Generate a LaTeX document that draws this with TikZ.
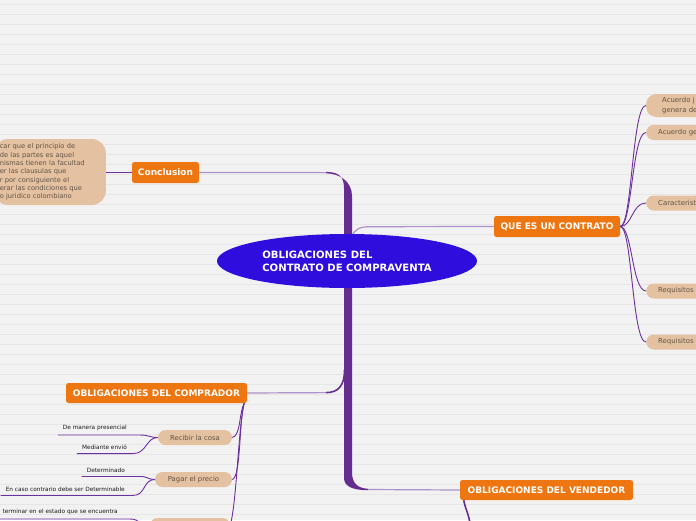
\documentclass[tikz,border=0pt]{standalone}
\usepackage{fontspec}
\setmainfont{DejaVu Sans}
\usetikzlibrary{shapes.geometric,calc}
\definecolor{bg}{RGB}{242,242,242}
\definecolor{bgline}{RGB}{230,230,230}
\definecolor{orng}{RGB}{238,118,17}
\definecolor{peach}{RGB}{228,193,160}
\definecolor{rootc}{RGB}{46,13,221}
\definecolor{trunkc}{RGB}{102,45,145}
\definecolor{lightln}{RGB}{172,145,204}
\definecolor{darkln}{RGB}{108,48,160}
\definecolor{peachtxt}{RGB}{100,84,70}
\begin{document}
\begin{tikzpicture}[x=1pt,y=-1pt,
 mainbox/.style={fill=orng, text=white, font=\bfseries\fontsize{9}{10}\selectfont, rounded corners=2.5pt, inner sep=0pt, minimum height=21},
 pill/.style={fill=peach, text=peachtxt, font=\fontsize{6.9}{10}\selectfont, rounded corners=7.5pt, inner sep=0pt, minimum height=15},
 gctext/.style={text=black!90, font=\fontsize{5.8}{7}\selectfont, inner sep=0pt, anchor=east},
 lightlink/.style={draw=lightln, line width=1.2pt},
 darklink/.style={draw=darkln, line width=0.9pt},
 trunkfill/.style={fill=trunkc},
]
\clip (0,0) rectangle (696,520);
\fill[bg] (0,0) rectangle (696,520);
\foreach \k in {0,...,51} \draw[bgline, line width=0.8pt] (0,{4.3+10*\k}) -- (696,{4.3+10*\k});

% nodes
\node[mainbox, minimum width=67] (concl) at (165.5,172.5) {Conclusion};
\node[mainbox, minimum width=126] (que) at (557,226.5) {QUE ES UN CONTRATO};
\node[mainbox, minimum width=181, minimum height=20] (comp) at (156.5,393) {OBLIGACIONES DEL COMPRADOR};
\node[mainbox, minimum width=173, minimum height=20] (vend) at (546.5,490) {OBLIGACIONES DEL VENDEDOR};

\node[fill=peach, text=peachtxt, rounded corners=14pt, anchor=east, inner xsep=6pt, inner ysep=0pt,
  minimum height=66, text width=100pt, align=left, font=\fontsize{6.7}{8.3}\selectfont] (ctext) at (106,172)
  {car que el principio de\\de las partes es aquel\\nismas tienen la facultad\\er las clausulas que\\r por consiguiente el\\erar las condiciones que\\o juridico colombiano};

\node[pill, anchor=west, minimum height=23, rounded corners=10pt, text width=80pt, align=left, inner xsep=16pt] (q1) at (646,105.5) {Acuerdo j\\genera de};
\node[pill, anchor=west, text width=80pt, align=left, inner xsep=12pt] (q2) at (646,132.5) {Acuerdo ge};
\node[pill, anchor=west, text width=80pt, align=left, inner xsep=12pt] (q3) at (646,203) {Caracterist};
\node[pill, anchor=west, text width=80pt, align=left, inner xsep=12pt] (q4) at (646,291) {Requisitos};
\node[pill, anchor=west, text width=80pt, align=left, inner xsep=12pt] (q5) at (646,342) {Requisitos};

\node[pill, minimum width=74] (rec) at (195,437.5) {Recibir la cosa};
\node[pill, minimum width=77] (pag) at (193.5,479.5) {Pagar el precio};
\node[pill, minimum width=80] (third) at (190,525.5) {};

\node[gctext] (g1) at (127,428) {De manera presencial};
\node[gctext] (g2) at (127,447) {Mediante envió};
\node[gctext] (g3) at (125,470) {Determinado};
\node[gctext] (g4) at (125,489) {En caso contrario debe ser Determinable};
\node[gctext] (g5) at (118,512) {terminar en el estado que se encuentra};

% trunk
\coordinate (tc) at (326,172.6);
\coordinate (tv) at (368,489.5);
\coordinate (tq) at (370,226.7);
\coordinate (tk) at (326,392.6);
\fill[trunkfill] (326,171.9) .. controls (338,172) and (344,176) .. (344,188) -- (344,478)
  .. controls (344,486) and (352,490.2) .. (368,490.2) -- (368,488.8)
  .. controls (358,488) and (352,484) .. (352,472) -- (352,196)
  .. controls (352,182) and (340,173.4) .. (326,173.3) -- cycle;
\draw[draw=trunkc, line width=1.6pt] (344.5,370) .. controls (344.5,386) and (338,392.6) .. (tk);
\draw[lightlink] (concl.east) -- (tc);
\draw[lightlink] (comp.east) -- (tk);
\draw[lightlink] (tv) -- (vend.west);
\draw[lightlink] (352,236) .. controls (355,229) and (360,226.7) .. (tq) -- (que.west);

\node[ellipse, fill=rootc, text=white, minimum width=260, minimum height=54, inner sep=0pt, align=left,
  font=\bfseries\fontsize{10.1}{13}\selectfont] (root) at (347,261) {OBLIGACIONES DEL\\CONTRATO DE COMPRAVENTA};

% links
\draw[draw=darkln, line width=1.2pt] (ctext.east |- concl.west) -- (concl.west);
\foreach \n in {q1,q2,q3,q4,q5}
  \draw[darklink] (que.east) .. controls +(12,0) and +(-14,0) .. (\n.west);

\coordinate (cs) at ($(comp.south east)+(-3,0)$);
\draw[darklink] (cs) .. controls (239,412) and (241,436) .. (rec.east);
\draw[darklink] (cs) .. controls (239,420) and (241,478) .. (pag.east);
\draw[darklink] (cs) .. controls (238,430) and (237,500) .. (third.east);

\coordinate (g1a) at ($(g1.south west)+(-5,4)$); \coordinate (g1b) at ($(g1.south east)+(13,4)$);
\coordinate (g2a) at ($(g2.south west)+(-5,4)$); \coordinate (g2b) at ($(g2.south east)+(6,4)$);
\coordinate (g3a) at ($(g3.south west)+(-5,4)$); \coordinate (g3b) at ($(g3.south east)+(15,4)$);
\coordinate (g4a) at ($(g4.south west)+(-5,4)$); \coordinate (g4b) at ($(g4.south east)+(8,4)$);
\coordinate (g5a) at ($(g5.south west)+(-5,4)$); \coordinate (g5b) at ($(g5.south east)+(12,4)$);
\draw[darklink] (g1a) -- (g1b) .. controls +(9,0) and +(-8,0) .. (rec.west);
\draw[darklink] (g2a) -- (g2b) .. controls +(14,0) and +(-12,0) .. (rec.west);
\draw[darklink] (g3a) -- (g3b) .. controls +(8,0) and +(-7,0) .. (pag.west);
\draw[darklink] (g4a) -- (g4b) .. controls +(13,0) and +(-12,0) .. (pag.west);
\draw[darklink] (g5a) -- (g5b) .. controls +(10,0) and +(-10,0) .. (third.west);

\coordinate (vs) at ($(vend.south west)+(4,0)$);
\coordinate (ve) at (470,523);
\draw[draw=trunkc, line width=1.6pt] (vs) .. controls (465,508) and (468,512) .. (ve);
\end{tikzpicture}
\end{document}
